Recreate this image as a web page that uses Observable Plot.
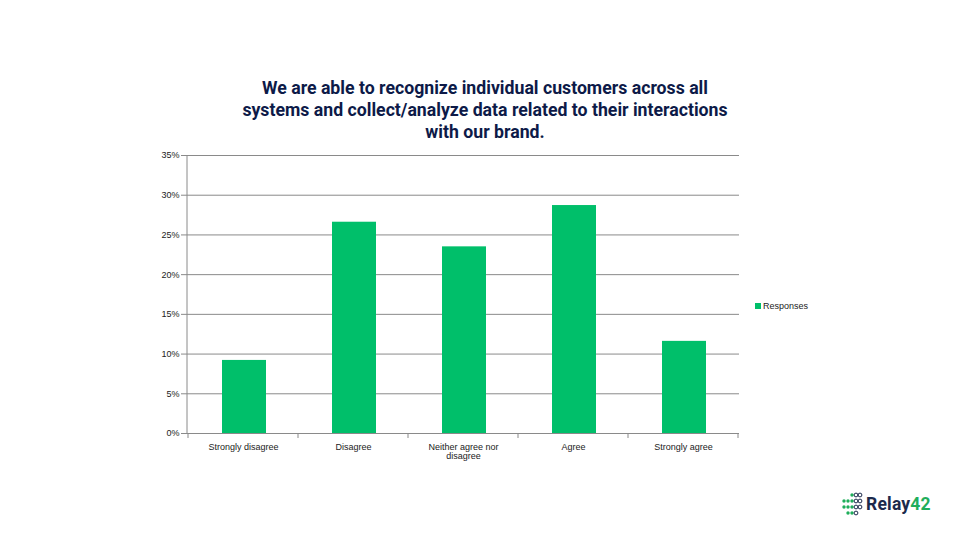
<!DOCTYPE html>
<html>
<head>
<meta charset="utf-8">
<script src="https://cdn.jsdelivr.net/npm/d3@7"></script>
<script src="https://cdn.jsdelivr.net/npm/@observablehq/plot@0.6"></script>
<style>
  html, body { margin: 0; padding: 0; background: #fff; }
  #frame { position: relative; width: 960px; height: 540px; overflow: hidden; background: #fff; }
  #title { position: absolute; left: 232px; width: 506px; top: 77px; text-align: center;
    font-family: Roboto, "Noto Sans", sans-serif; font-weight: 700; font-size: 17.7px; line-height: 22px; color: #0d1a48; }
  #chart { position: absolute; left: 0; top: 145px; }
  #legend { position: absolute; left: 755px; top: 301px; font-family: "Liberation Sans", Arial, sans-serif; font-size: 9px; color: #222; display: flex; align-items: center; }
  #legend .sw { width: 6px; height: 6px; margin-right: 2px; }
  #logo { position: absolute; left: 842px; top: 492px; display: flex; align-items: center; }
  #logo .txt { font-family: Roboto, sans-serif; font-weight: 700; font-size: 17.5px; color: #1c2a4c; margin-left: 3px; letter-spacing: 0.2px; }
  #logo .txt span { color: #1fae5b; }
</style>
</head>
<body>
<div id="frame">
  <div id="title">We are able to recognize individual customers across all systems and collect/analyze data related to their interactions with our brand.</div>
  <div id="chart"></div>
  <div id="legend"></div>
  <div id="logo"></div>
</div>
<script>
const categories = ["Strongly disagree", "Disagree", "Neither agree nor disagree", "Agree", "Strongly agree"];
const tickLabels = ["Strongly disagree", "Disagree", "Neither agree nor\ndisagree", "Agree", "Strongly agree"];
const responses = [0.092, 0.266, 0.235, 0.287, 0.116];
const yTicks = [0, 0.05, 0.10, 0.15, 0.20, 0.25, 0.30, 0.35];
const seriesName = "Responses";
const barColor = "#00bf6a";

const data = categories.map((c, i) => ({category: c, value: responses[i]}));
const labelOf = new Map(categories.map((c, i) => [c, tickLabels[i]]));

// tick marks at band boundaries (Excel-style category axis)
function bandBoundaryTicks(index, scales) {
  const x = scales.x, y = scales.y;
  const bw = x.bandwidth();
  const step = x.step();
  const g = d3.create("svg:g");
  const y0 = y(0);
  const bounds = categories.map(c => x(c) - (step - bw) / 2);
  bounds.push(bounds[bounds.length - 1] + step);
  for (const b of bounds) {
    g.append("line").attr("x1", b).attr("x2", b).attr("y1", y0).attr("y2", y0 + 5)
      .attr("stroke", "#8a8a8a").attr("stroke-width", 1);
  }
  return g.node();
}

const plot = Plot.plot({
  width: 960,
  height: 330,
  marginLeft: 187,
  marginRight: 221,
  marginTop: 10,
  marginBottom: 42,
  style: { fontFamily: "'Liberation Sans', Arial, sans-serif", fontSize: "9px", color: "#222", background: "transparent" },
  x: { domain: categories, paddingInner: 0.6, paddingOuter: 0.3, align: 0.5, label: null },
  y: { domain: [0, 0.35], label: null },
  marks: [
    Plot.gridY(yTicks, { stroke: "#8a8a8a", strokeOpacity: 1, strokeWidth: 1 }),
    Plot.barY(data, { x: "category", y: "value", fill: barColor, dx: 1 }),
    Plot.ruleY([0], { stroke: "#8a8a8a", strokeWidth: 1 }),
    Plot.axisY({ ticks: yTicks, tickFormat: d => Math.round(d * 100) + "%", tickSize: 6, tickPadding: 2, stroke: "#8a8a8a", fill: "#222", label: null }),
    Plot.axisX({ tickSize: 0, tickPadding: 9, tickFormat: d => labelOf.get(d), fill: "#222", label: null, lineHeight: 1.1 }),
    bandBoundaryTicks
  ]
});
document.getElementById("chart").appendChild(plot);

// y axis line, drawn from the plot's scales
(function () {
  const ys = plot.scale("y"), xs = plot.scale("x");
  const svg = d3.select(plot);
  const left = xs.range[0];
  svg.append("line").attr("x1", left).attr("x2", left)
    .attr("y1", ys.apply(0.35)).attr("y2", ys.apply(0))
    .attr("stroke", "#8a8a8a").attr("stroke-width", 1);
})();

// legend
const legend = document.getElementById("legend");
legend.innerHTML = `<div class="sw" style="background:${barColor}"></div><div>${seriesName}</div>`;

// logo
const logo = document.getElementById("logo");
const dots = [
  [10,2,"g"],[14,2,"o"],[18,2,"o"],
  [2,8,"g"],[6,8,"g"],[10,8,"g"],[14,8,"o"],[18,8,"o"],
  [2,14,"g"],[6,14,"g"],[10,14,"g"],[14,14,"o"],[18,14,"o"],
  [6,20,"g"],[10,20,"g"],[14,20,"o"]
];
const ns = "http://www.w3.org/2000/svg";
const s = document.createElementNS(ns, "svg");
s.setAttribute("width", 21); s.setAttribute("height", 24);
for (const [cx, cy, t] of dots) {
  const c = document.createElementNS(ns, "circle");
  c.setAttribute("cx", cx); c.setAttribute("cy", cy + 1);
  c.setAttribute("r", t === "g" ? 1.7 : 1.9);
  if (t === "g") { c.setAttribute("fill", "#1fae5b"); }
  else { c.setAttribute("fill", "none"); c.setAttribute("stroke", "#1c2a4c"); c.setAttribute("stroke-width", 1); }
  s.appendChild(c);
}
logo.appendChild(s);
const t = document.createElement("div");
t.className = "txt";
t.innerHTML = "Relay<span>42</span>";
logo.appendChild(t);
</script>
</body>
</html>
